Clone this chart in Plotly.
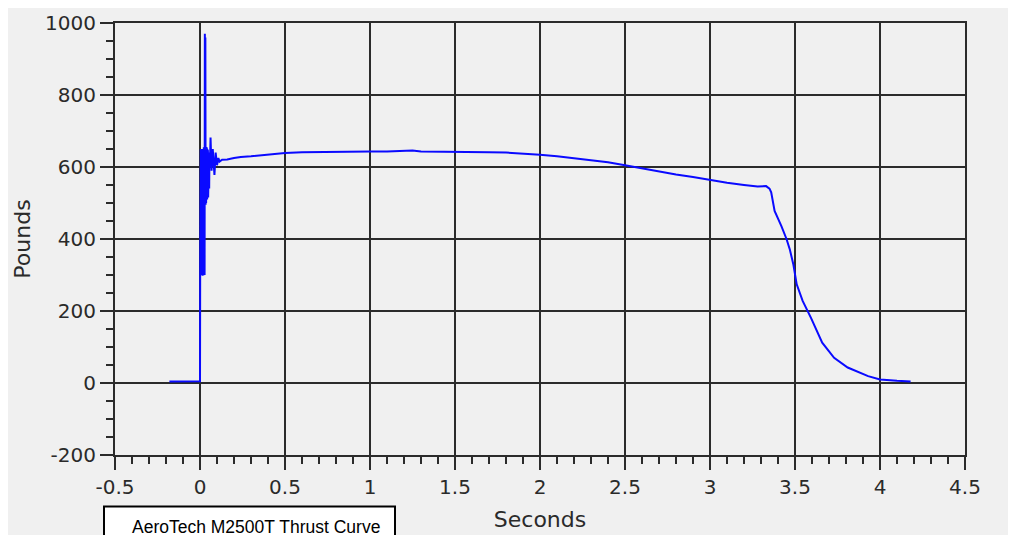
import plotly.graph_objects as go

# ---- data ----
time_pre = [-0.18, -0.12, -0.06, -0.002]
thrust_pre = [4, 4, 5, 5]

time_ignition = [0.000, 0.001, 0.0015, 0.003, 0.0045, 0.006, 0.0075, 0.009, 0.0105, 0.012,
                 0.0135, 0.015, 0.0165, 0.018, 0.0195, 0.021, 0.0225, 0.024, 0.0255, 0.027,
                 0.0285, 0.030, 0.0315, 0.033, 0.0345, 0.036, 0.0375, 0.039, 0.0405, 0.042,
                 0.0435, 0.045, 0.0465, 0.048, 0.0495, 0.051, 0.0525, 0.054, 0.0555, 0.058,
                 0.062, 0.068, 0.075, 0.080, 0.085, 0.092, 0.100, 0.108, 0.115]
thrust_ignition = [5, 300, 640, 300, 650, 305, 645, 300, 640, 302,
                   650, 298, 645, 300, 650, 305, 655, 310, 925, 300,
                   970, 500, 960, 495, 650, 500, 655, 505, 650, 510,
                   648, 510, 645, 515, 640, 520, 640, 540, 630, 600,
                   682, 590, 650, 600, 578, 640, 605, 625, 615]

time_burn = [0.13, 0.16, 0.20, 0.24, 0.30, 0.40, 0.50, 0.60, 0.70, 0.80,
             0.90, 1.00, 1.10, 1.20, 1.25, 1.30, 1.40, 1.50, 1.60, 1.70,
             1.80, 1.90, 2.00, 2.10, 2.20, 2.30, 2.40, 2.50, 2.60, 2.70,
             2.80, 2.90, 3.00, 3.10, 3.20, 3.28, 3.33, 3.35, 3.36, 3.38,
             3.42, 3.45, 3.47, 3.49, 3.51, 3.545, 3.594, 3.66, 3.73, 3.81,
             3.93, 4.00, 4.10, 4.18]
thrust_burn = [620, 621, 625, 628, 630, 635, 639, 641, 642, 642,
               642, 643, 643, 644, 646, 643, 643, 643, 642, 641,
               640, 638, 634, 630, 625, 619, 613, 605, 596, 588,
               579, 572, 563, 556, 550, 546, 547, 540, 530, 478,
               436, 400, 370, 330, 274, 228, 181, 112, 70, 43,
               19, 10, 6, 4]

x_tick_values = [-0.5, 0, 0.5, 1, 1.5, 2, 2.5, 3, 3.5, 4, 4.5]
x_tick_labels = ["-0.5", "0", "0.5", "1", "1.5", "2", "2.5", "3", "3.5", "4", "4.5"]
y_tick_values = [-200, 0, 200, 400, 600, 800, 1000]
y_tick_labels = ["-200", "0", "200", "400", "600", "800", "1000"]

chart_title = "AeroTech M2500T Thrust Curve"
x_title = "Seconds"
y_title = "Pounds"

time_all = time_pre + time_ignition + time_burn
thrust_all = thrust_pre + thrust_ignition + thrust_burn

# ---- figure ----
# The page body has an 8 px margin, so the figure starts at screen (8, 8).
OFF = 8
W, H = 1016, 535
L, T = 115 - OFF, 23 - OFF
pw, ph = 850, 432
R, B = W - L - pw, H - T - ph


def sx(px):  # screen pixel x -> paper x
    return (px - OFF - L) / pw


def sy(py):  # screen pixel y -> paper y
    return (T + ph - (py - OFF)) / ph


GRID = "#2b2b2b"
TXT = "#2a2a2a"
BG = "#f0f0f0"

fig = go.Figure()
fig.add_trace(go.Scatter(
    x=time_all, y=thrust_all, mode="lines",
    line=dict(color="#0a0aff", width=2),
    showlegend=False, hoverinfo="x+y"))

axis_common = dict(
    showgrid=True, gridcolor=GRID, gridwidth=2,
    showline=True, linecolor=GRID, linewidth=2, mirror=True,
    ticks="outside", ticklen=13, tickwidth=2, tickcolor=GRID,
    zeroline=False, automargin=False,
    tickfont=dict(family="DejaVu Sans", size=20, color=TXT),
)

fig.update_xaxes(
    range=[-0.5, 4.5], tickmode="array",
    tickvals=x_tick_values, ticktext=x_tick_labels,
    minor=dict(tickmode="linear", tick0=-0.5, dtick=0.1, ticks="outside",
               ticklen=7, tickwidth=2, tickcolor=GRID, showgrid=False),
    title=dict(text=x_title, font=dict(family="DejaVu Sans", size=22, color=TXT),
               standoff=14),
    **axis_common)
fig.update_yaxes(
    range=[-200, 1000], tickmode="array",
    tickvals=y_tick_values, ticktext=y_tick_labels,
    minor=dict(tickmode="linear", tick0=-200, dtick=50, ticks="outside",
               ticklen=7, tickwidth=2, tickcolor=GRID, showgrid=False),
    title=dict(text=y_title, font=dict(family="DejaVu Sans", size=22, color=TXT),
               standoff=8),
    **axis_common)

shapes = [
    # caption box (runs off the bottom edge, as in the reference)
    dict(type="rect", xref="paper", yref="paper", layer="above",
         x0=sx(104), x1=sx(395),
         y0=sy(550), y1=sy(506.5),
         fillcolor="white", line=dict(color="black", width=2)),
]

fig.update_layout(
    width=W, height=H, autosize=False,
    margin=dict(l=L, r=R, t=T, b=B, pad=0, autoexpand=False),
    paper_bgcolor=BG, plot_bgcolor=BG,
    shapes=shapes,
    annotations=[dict(
        text=chart_title, xref="paper", yref="paper",
        x=sx(256), y=sy(527),
        xanchor="center", yanchor="middle", showarrow=False,
        font=dict(family="Liberation Sans", size=17.5, color="black"))],
)

fig.write_html("out.html")
